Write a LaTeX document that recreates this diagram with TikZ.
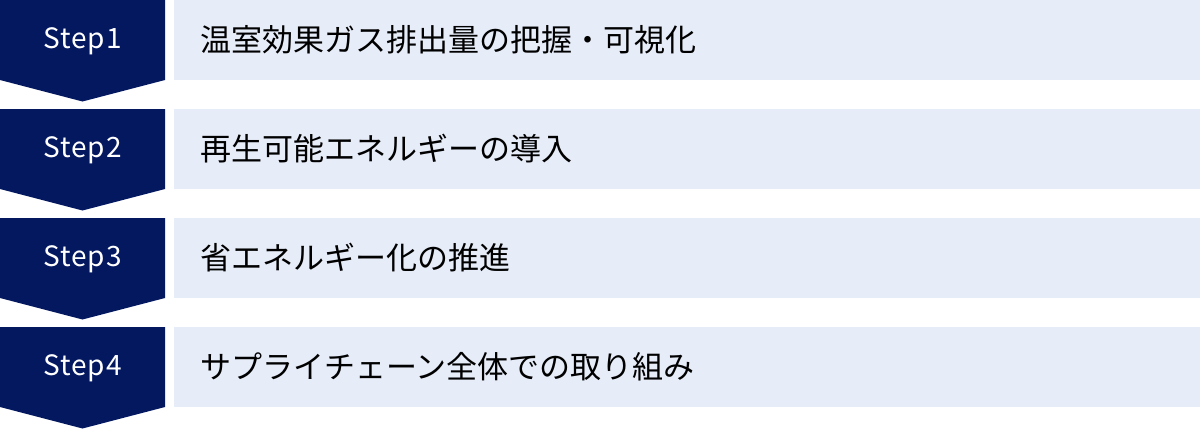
\documentclass[tikz,border=0pt]{standalone}
\usepackage{fontspec}
\newfontfamily\jpfont{Noto Sans CJK JP}
\newfontfamily\stepfont[LetterSpace=4]{Noto Sans CJK JP}
\definecolor{navy}{RGB}{4,24,96}
\definecolor{pale}{RGB}{230,236,248}
\begin{document}
\begin{tikzpicture}[x=1pt,y=-1pt,
  stepshape/.style={fill=navy,draw=none},
  bar/.style={fill=pale,draw=none},
  steplabel/.style={text=white,font=\stepfont\fontsize{28}{30}\selectfont,anchor=center,inner sep=0pt},
  barlabel/.style={text=black,font=\jpfont\fontsize{31}{34}\selectfont,anchor=west,inner sep=0pt}]
\useasboundingbox (0,0) rectangle (1200,429);
\foreach \i/\t in {0/温室効果ガス排出量の把握・可視化,1/再生可能エネルギーの導入,2/省エネルギー化の推進,3/サプライチェーン全体での取り組み}{
  \pgfmathsetmacro{\yy}{\i*109}
  \fill[stepshape] (0,\yy) -- (165,\yy) -- (165,\yy+80) -- (82.5,\yy+101.5) -- (0,\yy+80) -- cycle;
  \fill[bar] (174,\yy) rectangle (1200,\yy+80);
  \pgfmathtruncatemacro{\n}{\i+1}
  \node[steplabel] (s\n) at (82.5,\yy+41) {Step\n};
  \node[barlabel] (t\n) at (200,\yy+40) {\t};
}
\end{tikzpicture}
\end{document}
